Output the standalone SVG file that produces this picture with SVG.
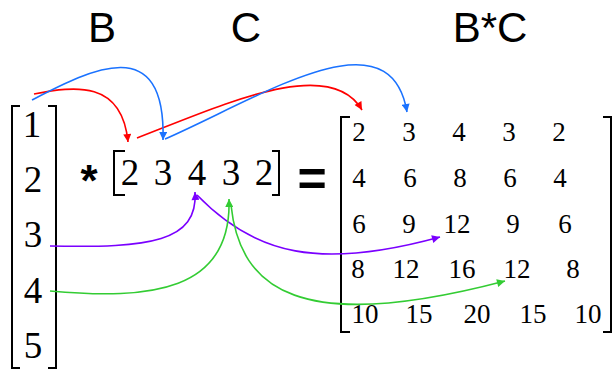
<svg xmlns="http://www.w3.org/2000/svg" width="613" height="370" viewBox="0 0 613 370">
<style>
.title{font-size:42px;fill:#000;text-anchor:middle}
.big{font-size:37px;fill:#000;text-anchor:middle}
.mx{font-size:27px;fill:#000;text-anchor:middle}
.op{font-weight:bold;fill:#000;text-anchor:middle}
.br{fill:none;stroke:#000;stroke-width:2}
.c{fill:none;stroke-width:1.6}
</style>
<defs>
<marker id="aR" viewBox="0 0 10 10" refX="10" refY="5" markerUnits="userSpaceOnUse" markerWidth="10" markerHeight="8" orient="auto"><path d="M0,0 L10,5 L0,10 z" fill="#ff0000"/></marker>
<marker id="aB" viewBox="0 0 10 10" refX="10" refY="5" markerUnits="userSpaceOnUse" markerWidth="10" markerHeight="8" orient="auto"><path d="M0,0 L10,5 L0,10 z" fill="#1a72ff"/></marker>
<marker id="aP" viewBox="0 0 10 10" refX="10" refY="5" markerUnits="userSpaceOnUse" markerWidth="10" markerHeight="8" orient="auto"><path d="M0,0 L10,5 L0,10 z" fill="#7a00ff"/></marker>
<marker id="aG" viewBox="0 0 10 10" refX="10" refY="5" markerUnits="userSpaceOnUse" markerWidth="10" markerHeight="8" orient="auto"><path d="M0,0 L10,5 L0,10 z" fill="#33cc33"/></marker>
</defs>
<g id="titles" font-family="Liberation Sans, Arial, sans-serif">
<text class="title" x="102" y="42">B</text>
<text class="title" x="246" y="42">C</text>
<text class="title" x="490" y="42">B*C</text>
</g>
<g id="vectorB" font-family="Liberation Serif, Times New Roman, serif">
<path class="br" d="M20,106 H12 V368 H20"/>
<path class="br" d="M48,106 H56 V368 H48"/>
<text class="big" x="32" y="137">1</text>
<text class="big" x="33" y="192">2</text>
<text class="big" x="33" y="247">3</text>
<text class="big" x="33" y="303">4</text>
<text class="big" x="33" y="358">5</text>
</g>
<g id="times" font-family="Liberation Sans, Arial, sans-serif"><text class="op" x="89" y="196" font-size="44">*</text></g>
<g id="vectorC" font-family="Liberation Serif, Times New Roman, serif">
<path class="br" d="M125,151 H114 V195 H125"/>
<path class="br" d="M272,151 H279 V195 H272"/>
<text class="big" x="130" y="185">2</text>
<text class="big" x="163" y="185">3</text>
<text class="big" x="197" y="185">4</text>
<text class="big" x="231" y="185">3</text>
<text class="big" x="264" y="185">2</text>
</g>
<g id="equals" font-family="Liberation Sans, Arial, sans-serif"><text class="op" x="312" y="196" font-size="50">=</text></g>
<g id="matrixBC" font-family="Liberation Serif, Times New Roman, serif">
<path class="br" d="M350,117 H341 V332 H350"/>
<path class="br" d="M603,117 H611 V332 H603"/>
<text class="mx" x="359" y="141">2</text><text class="mx" x="409" y="141">3</text><text class="mx" x="459" y="141">4</text><text class="mx" x="509" y="141">3</text><text class="mx" x="559" y="141">2</text>
<text class="mx" x="359" y="187">4</text><text class="mx" x="410" y="187">6</text><text class="mx" x="460" y="187">8</text><text class="mx" x="510" y="187">6</text><text class="mx" x="560" y="187">4</text>
<text class="mx" x="359" y="233">6</text><text class="mx" x="409" y="233">9</text><text class="mx" x="457" y="233">12</text><text class="mx" x="513" y="233">9</text><text class="mx" x="565" y="233">6</text>
<text class="mx" x="358" y="278">8</text><text class="mx" x="406" y="278">12</text><text class="mx" x="462" y="278">16</text><text class="mx" x="517" y="278">12</text><text class="mx" x="573" y="278">8</text>
<text class="mx" x="365" y="323">10</text><text class="mx" x="419" y="323">15</text><text class="mx" x="477" y="323">20</text><text class="mx" x="533" y="323">15</text><text class="mx" x="588" y="323">10</text>
</g>
<g id="connectors">
<path class="c" stroke="#ff0000" marker-end="url(#aR)" d="M34,94 C75,86 122,80 128,142"/>
<path class="c" stroke="#ff0000" marker-end="url(#aR)" d="M137,138 C225,104 330,55 362,110"/>
<path class="c" stroke="#1a72ff" marker-end="url(#aB)" d="M32,100 C90,70 166,30 163,140"/>
<path class="c" stroke="#1a72ff" marker-end="url(#aB)" d="M165,139 C265,95 390,12 407,112"/>
<path class="c" stroke="#7a00ff" marker-end="url(#aP)" d="M50,246 C150,248 198,242 195,192"/>
<path class="c" stroke="#7a00ff" marker-end="url(#aP)" d="M197,195 C255,255 320,270 440,237"/>
<path class="c" stroke="#33cc33" marker-end="url(#aG)" d="M50,291 C150,300 232,292 229,199"/>
<path class="c" stroke="#33cc33" marker-end="url(#aG)" d="M231,205 C240,290 300,335 505,281"/>
</g>
</svg>
